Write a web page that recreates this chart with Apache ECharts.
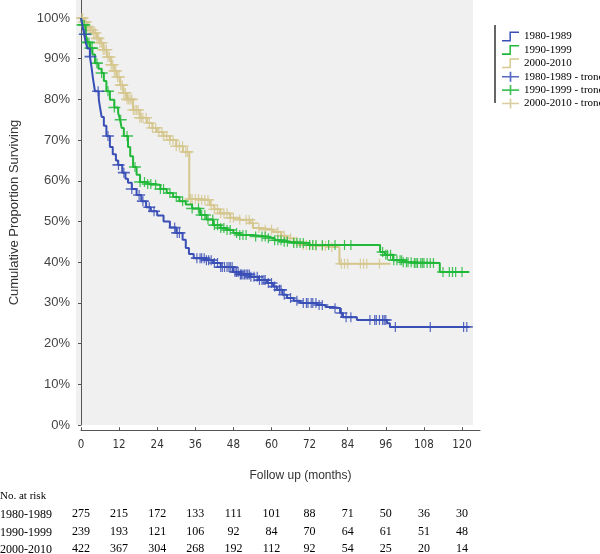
<!DOCTYPE html>
<html><head><meta charset="utf-8">
<script src="https://cdn.jsdelivr.net/npm/echarts@6/dist/echarts.min.js"></script>
<style>html,body{margin:0;padding:0;background:#fff}#c{width:600px;height:554px}</style>
</head><body><div id="c"></div>
<script>
const xTicks = [0,12,24,36,48,60,72,84,96,108,120];
const yTicks = [0,10,20,30,40,50,60,70,80,90,100];
const groups = ['1980-1989','1990-1999','2000-2010'];
const riskA = [275,215,172,133,111,101,88,71,50,36,30];
const riskB = [239,193,121,106,92,84,70,64,61,51,48];
const riskC = [422,367,304,268,192,112,92,54,25,20,14];

// Kaplan-Meier step curves: time (months) and survival (%) from that time on
const blueT = [0,0.5,1,1.5,2,2.8,3.3,3.8,4.4,5.6,6,6.5,7.2,8,9.1,10,11,11.7,13,14,14.8,16,17.5,19,20.5,22,24,26,28,30,32,33,34,35.5,39,41.6,44,47.9,50,53.2,56,58.6,60.5,61.7,63.5,64.9,67,69,74.3,77,79.4,81.6,82.5,86.9,96.4,97.3,122.3];
const blueS = [100,98,96,94,92.5,90.5,88,85,82,80,78,75.7,73.5,71,68.3,66.5,65,63.9,62,60.5,59.5,58,56.5,55,53.5,52.5,51.5,50,48.5,47.2,45.5,43.5,42,41,40.5,39.8,38.8,37.6,37,36.4,35.6,34.9,34,33.2,32,31.2,30.5,30,29.5,29,28.7,27.5,26.5,25.8,25,24.1,24.1];
const greenT = [0,0.5,1.5,2,2.8,3.6,4.4,5.5,6.5,7.2,8,9.1,10.5,11.7,12.3,12.8,13.5,14.8,15.5,16.4,17.5,18.6,21,23.3,25,27,29,31,33,35,37.5,39.5,41.6,44,46,48,50,54,58.6,61,63.7,66,72,94.2,95.7,98.3,101.4,104.6,113,122.3];
const greenS = [100,98.3,96,94,92.6,91,88.9,87.5,86.5,84.5,82,79.9,78,76.7,75,73,71,68.3,66,63.4,61.5,59.7,59.2,59,58,57,56,55,54.2,53.2,51.6,50.5,49.1,48.4,47.9,47.2,46.7,46.3,45.9,45.4,45,44.7,44.2,42.5,41.8,40.5,40,39.8,37.6,37.6];
const tanT = [0,1,2,3,3.9,5,6,7,8.2,9.5,10.5,11.3,12.3,13.3,14.5,16.4,18.5,20.8,22.5,23.9,26,28,30,32.1,34.1,38,40.6,42,43.8,47,50,53.2,54.2,57,60.5,63,64.9,67,69,74,78,81.4,97.5];
const tanS = [100,99,97.8,97,96.3,95,93.9,92.2,90.4,88.5,87,85.5,83.5,81.6,80,77.4,75.5,74.2,73,72,71,70,68.5,67.1,55.5,55.3,54,53,52,50.9,50.4,49.6,48.4,48,47.4,46.5,45.9,45,44.2,44,43.7,39.6,39.6];

// censored observation times (months)
const blueCens = [1.2,3,5.4,8.5,11.8,13.5,16,18.3,19.5,21.5,23,29.5,30.3,31,36.5,37.5,38,38.8,39.5,40.2,41,42,43,44,44.5,45.2,46,46.6,47,47.6,48.5,49,49.5,50.2,50.5,51,51.5,52,52.5,53,53.5,54.5,55.5,56.2,57,57.6,58,59,60,61,62.5,63,64,66,68,70,71,71.5,72.5,73,74,75,76,80,82,83.5,85,91,92.5,93,94,95,95.5,96,99,110,120.5,121.5];
const greenCens = [0.5,1,1.5,2,2.5,3,3.5,5,6.5,8.5,10.5,12.5,14.5,17,18.6,20,21,22,23.5,25,26,28,30,32,35,37,38,39,40,41.5,42,43,44,45,46,47,49,50,51,52,55,57,58,59,61,62,63,64,65,67,68,69,70,72,73,74,76,78,80,83,85,95,96,96.5,97.5,98.5,99.5,100.5,101,101.5,102.5,103,104,105,105.5,106,107,107.5,108,109,110,111,114,116,117,118,120];
const tanCens = [0.3,0.5,1,1.5,2,2.5,3,3.5,4,4.5,5,5.5,6,6.5,7,7.5,8,8.5,9,9.5,10,10.5,11,11.5,12,12.5,13,13.5,14,14.5,15,15.5,16,16.5,17,17.5,18,18.5,19,19.5,20.5,21.5,22.5,23.5,24.5,25.5,26,27,28,29,30,31,32,33,33.5,34.5,35,36,37,38,39,40,41,42,43,44,45,46,47,48,50,52,53,54,56,58,60,62,63,64,66,67,68,70,71,72,73,74,76,77,79,82,83,84,88,89,90,94];

const colors = ['#3a4fb6','#22b83a','#d5c78e'];

function pairs(t, s){ return t.map((v,i)=>[v, s[i]]); }
function survAt(t, s, x){ let v = s[0]; for(let i=0;i<t.length;i++){ if(t[i] <= x) v = s[i]; } return v; }
function cens(t, s, c){ return c.map(x => [x, survAt(t, s, x)]); }

const curves = [[blueT,blueS,blueCens],[greenT,greenS,greenCens],[tanT,tanS,tanCens]];
const plusPath = 'path://M0,4.2L16,4.2L16,5.8L0,5.8Z M7.2,0L8.8,0L8.8,10L7.2,10Z';
const stepPath = 'path://M0,8.6L7,8.6L7,1L16,1L16,2.4L8.4,2.4L8.4,10L0,10Z';

const series = [];
curves.forEach((c, i) => {
  series.push({
    name: groups[i], type: 'line', step: 'end', xAxisIndex: 0, yAxisIndex: 0,
    data: pairs(c[0], c[1]), showSymbol: false, symbol: 'none',
    lineStyle: { color: colors[i], width: 2 }, itemStyle: { color: colors[i] },
    z: 3 + (2 - i), silent: true, animation: false
  });
});
curves.forEach((c, i) => {
  series.push({
    name: groups[i] + ' - tronc', type: 'scatter', xAxisIndex: 0, yAxisIndex: 0,
    data: cens(c[0], c[1], c[2]), symbol: plusPath, symbolSize: [12, 10], symbolKeepAspect: false,
    itemStyle: { color: colors[i], opacity: 0.85 }, z: 3 + (2 - i), silent: true, animation: false
  });
});

const legendData = groups.map(g => ({ name: g, icon: stepPath }))
  .concat(groups.map(g => ({ name: g + ' - tronc', icon: plusPath })));

const riskRows = [riskA, riskB, riskC];
const rowY = [516, 534, 551];
const riskAxes = riskRows.map((r, k) => ({
  type: 'value', gridIndex: 1, position: 'bottom', min: 0, max: 125.67,
  offset: rowY[k] - 438,
  axisLine: { show: false }, axisTick: { show: false }, splitLine: { show: false },
  axisLabel: {
    customValues: xTicks, margin: 0, fontFamily: 'Liberation Serif', fontSize: 12, color: '#000',
    formatter: v => { const j = xTicks.indexOf(v); return j >= 0 ? String(r[j]) : ''; }
  }
}));

const chart = echarts.init(document.getElementById('c'), null, { renderer: 'canvas' });
chart.setOption({
  animation: false,
  backgroundColor: '#ffffff',
  grid: [
    { left: 76, right: 127, top: 0, bottom: 129, show: true, backgroundColor: '#f0f0f0', borderWidth: 0 },
    { left: 81, right: 120, top: 430, height: 1, show: false }
  ],
  xAxis: [
    { type: 'value', gridIndex: 0, min: -1.575, max: 123.46, show: false },
    { type: 'value', gridIndex: 1, position: 'bottom', min: 0, max: 125.67,
      axisLine: { show: true, lineStyle: { color: '#555', width: 1 } },
      axisTick: { show: true, inside: true, length: 3, customValues: xTicks, lineStyle: { color: '#555' } },
      splitLine: { show: false },
      axisLabel: { customValues: xTicks, margin: 9, fontFamily: 'Liberation Sans Narrow, DejaVu Sans Condensed, sans-serif', fontSize: 11.5, color: '#333' },
      name: 'Follow up (months)', nameLocation: 'middle', nameGap: 39,
      nameTextStyle: { fontFamily: 'Liberation Sans', fontSize: 12, color: '#333', padding: [0, 0, 0, 40] }
    }
  ].concat(riskAxes),
  yAxis: [
    { type: 'value', gridIndex: 0, min: 0, max: 104.42, offset: 1,
      axisLine: { show: true, lineStyle: { color: '#555', width: 1 } },
      axisTick: { show: true, length: 3, customValues: yTicks, lineStyle: { color: '#555' } },
      splitLine: { show: false },
      axisLabel: { customValues: yTicks, margin: 5, formatter: '{value}%', fontFamily: 'Liberation Sans', fontSize: 13, color: '#444' },
      name: 'Cumulative Proportion Surviving', nameLocation: 'middle', nameGap: 54,
      nameTextStyle: { fontFamily: 'Liberation Sans', fontSize: 13, color: '#333' }
    },
    { type: 'value', gridIndex: 1, show: false }
  ],
  legend: {
    orient: 'vertical', left: 497, top: 25, itemWidth: 17, itemHeight: 10, itemGap: 0.4,
    symbolKeepAspect: false, selectedMode: false,
    textStyle: { fontFamily: 'Liberation Serif', fontSize: 11, color: '#000', lineHeight: 13 },
    data: legendData
  },
  graphic: [
    { type: 'line', shape: { x1: 495, y1: 25, x2: 495, y2: 103 }, style: { stroke: '#666', lineWidth: 2 } },
    { type: 'text', left: 0, top: 491, style: { text: 'No. at risk', font: '11px "Liberation Serif"', fill: '#000' } },
    { type: 'text', left: 0, top: rowY[0] - 7, style: { text: groups[0], font: '12px "Liberation Serif"', fill: '#000' } },
    { type: 'text', left: 0, top: rowY[1] - 7, style: { text: groups[1], font: '12px "Liberation Serif"', fill: '#000' } },
    { type: 'text', left: 0, top: rowY[2] - 7, style: { text: groups[2], font: '12px "Liberation Serif"', fill: '#000' } }
  ],
  series: series
});
</script></body></html>
